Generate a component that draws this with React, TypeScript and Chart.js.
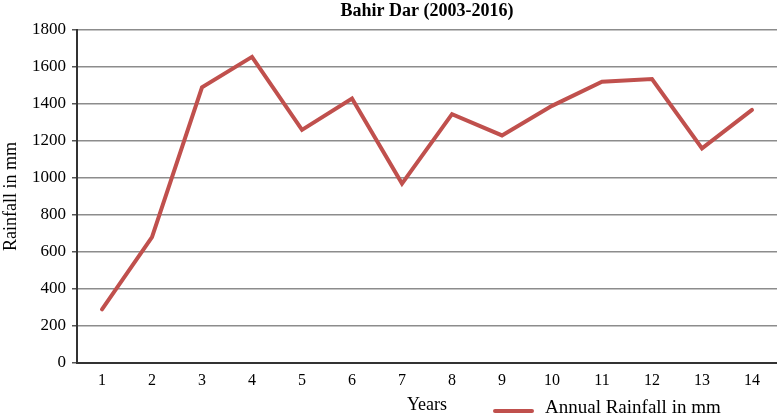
import React, { useEffect, useRef } from "react";
import { Chart, registerables } from "chart.js";

Chart.register(...registerables);

const years = ["1", "2", "3", "4", "5", "6", "7", "8", "9", "10", "11", "12", "13", "14"];
const rainfall = [290, 680, 1490, 1655, 1260, 1430, 970, 1345, 1230, 1390, 1520, 1535, 1160, 1368];
const chartTitle = "Bahir Dar (2003-2016)";
const xTitle = "Years";
const yTitle = "Rainfall in mm";
const seriesName = "Annual Rainfall in mm";
const lineColor = "#C0504D";
const FONT = "'Liberation Serif', 'DejaVu Serif', serif";

export default function App() {
  const ref = useRef<HTMLCanvasElement | null>(null);
  useEffect(() => {
    document.body.style.margin = "0";
    const canvas = ref.current;
    if (!canvas) return;
    const overlay = {
      id: "overlay",
      afterDraw(chart: any) {
        const ctx = chart.ctx;
        const area = chart.chartArea;
        ctx.save();
        ctx.fillStyle = "#000";
        ctx.textBaseline = "middle";
        ctx.textAlign = "center";
        ctx.font = `bold 18px ${FONT}`;
        ctx.fillText(chartTitle, (area.left + area.right) / 2, 11);
        ctx.font = `18px ${FONT}`;
        ctx.fillText(xTitle, (area.left + area.right) / 2, 405);
        // legend
        ctx.strokeStyle = lineColor;
        ctx.lineWidth = 4;
        ctx.lineCap = "round";
        ctx.beginPath();
        ctx.moveTo(495, 411);
        ctx.lineTo(532, 411);
        ctx.stroke();
        ctx.textAlign = "left";
        ctx.font = `19px ${FONT}`;
        ctx.fillText(seriesName, 545, 408);
        ctx.restore();
      },
    };
    const chart = new Chart(canvas, {
      type: "line",
      data: {
        labels: years,
        datasets: [
          {
            label: seriesName,
            data: rainfall,
            borderColor: lineColor,
            backgroundColor: lineColor,
            borderWidth: 4,
            pointRadius: 0,
            tension: 0,
            borderCapStyle: "round",
            borderJoinStyle: "miter",
          },
        ],
      },
      options: {
        animation: false,
        responsive: false,
        maintainAspectRatio: false,
        layout: { padding: { top: 30, right: 0, bottom: 0, left: 0 } },
        plugins: {
          legend: { display: false },
          title: { display: false },
          tooltip: { enabled: false },
        },
        scales: {
          x: {
            offset: true,
            grid: { display: false, drawTicks: false },
            border: { display: true, color: "#333", width: 2 },
            ticks: { color: "#000", font: { family: FONT, size: 16 }, padding: 8, maxRotation: 0 },
            afterFit(scale: any) {
              scale.height = 54;
            },
          },
          y: {
            min: 0,
            max: 1800,
            ticks: {
              stepSize: 200,
              color: "#000",
              font: { family: FONT, size: 17 },
              padding: 6,
              callback: (v: any) => String(v),
            },
            grid: { color: "#8c8c8c", lineWidth: 1.5, tickLength: 5, tickColor: "#555" },
            border: { display: true, color: "#333", width: 2 },
            title: { display: true, text: yTitle, color: "#000", font: { family: FONT, size: 18 }, padding: 0 },
            afterFit(scale: any) {
              scale.width = 77;
            },
          },
        },
      },
      plugins: [overlay],
    });
    return () => chart.destroy();
  }, []);
  return (
    <div style={{ width: 777, height: 417 }}>
      <canvas ref={ref} width={777} height={417} style={{ display: "block" }} />
    </div>
  );
}
